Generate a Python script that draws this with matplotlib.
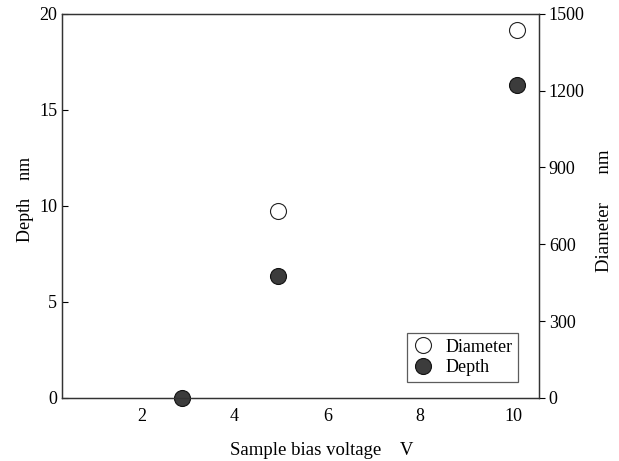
import matplotlib
matplotlib.use("Agg")
import matplotlib.pyplot as plt
from matplotlib.lines import Line2D

plt.rcParams['font.family'] = ['Liberation Serif', 'DejaVu Serif']

voltage_depth = [2.87, 4.93, 10.08]
depth_nm = [0.0, 6.35, 16.3]
voltage_diam = [4.93, 10.08]
diameter_nm = [728, 1437]

x_ticks = [2, 4, 6, 8, 10]
depth_ticks = [0, 5, 10, 15, 20]
diam_ticks = [0, 300, 600, 900, 1200, 1500]

fig = plt.figure(figsize=(6.19, 4.61), dpi=100)
ax = fig.add_axes([0.100, 0.137, 0.771, 0.833])
ax2 = ax.twinx()

fs = 13
lfs = 13.5
ax.set_xlim(0.28, 10.56)
ax.set_ylim(0, 20)
ax2.set_ylim(0, 1500)

ax.plot(voltage_depth, depth_nm, 'o', ms=11.5, mfc='#3c3c3c', mec='#111111', mew=0.8,
        clip_on=False, zorder=5)
ax2.plot(voltage_diam, diameter_nm, 'o', ms=11.5, mfc='white', mec='#222222', mew=0.8,
         clip_on=False, zorder=5)

ax.set_xticks(x_ticks)
ax.set_yticks(depth_ticks)
ax2.set_yticks(diam_ticks)
ax.tick_params(axis='x', length=0, labelsize=fs, pad=7)
ax.tick_params(axis='y', direction='in', length=4, labelsize=fs, pad=3.5)
ax2.tick_params(axis='y', direction='out', length=4, labelsize=fs, pad=3)

for a in (ax, ax2):
    for s in a.spines.values():
        s.set_linewidth(0.9)
        s.set_color('#333333')

ax.set_xlabel('Sample bias voltage    V', fontsize=lfs)
ax.xaxis.set_label_coords(0.544, -0.115)
ax.set_ylabel('Depth    nm', fontsize=fs, va='center')
ax.yaxis.set_label_coords(-0.076, 0.516)
ax2.set_ylabel('Diameter      nm', fontsize=lfs, va='center')
ax2.yaxis.set_label_coords(1.136, 0.487)

handles = [
    Line2D([], [], ls='none', marker='o', ms=11.5, mfc='white', mec='#222222', mew=0.8),
    Line2D([], [], ls='none', marker='o', ms=11.5, mfc='#3c3c3c', mec='#111111', mew=0.8),
]
leg = ax.legend(handles, ['Diameter', 'Depth'], loc='lower right', fontsize=fs,
                frameon=True, fancybox=False, edgecolor='#333333',
                handletextpad=0.65, handlelength=1.2, borderpad=0.3,
                labelspacing=0.2, borderaxespad=0, bbox_to_anchor=(0.956, 0.042))
leg.get_frame().set_linewidth(0.9)
leg.set_zorder(10)

fig.savefig('out.png', dpi=100)
